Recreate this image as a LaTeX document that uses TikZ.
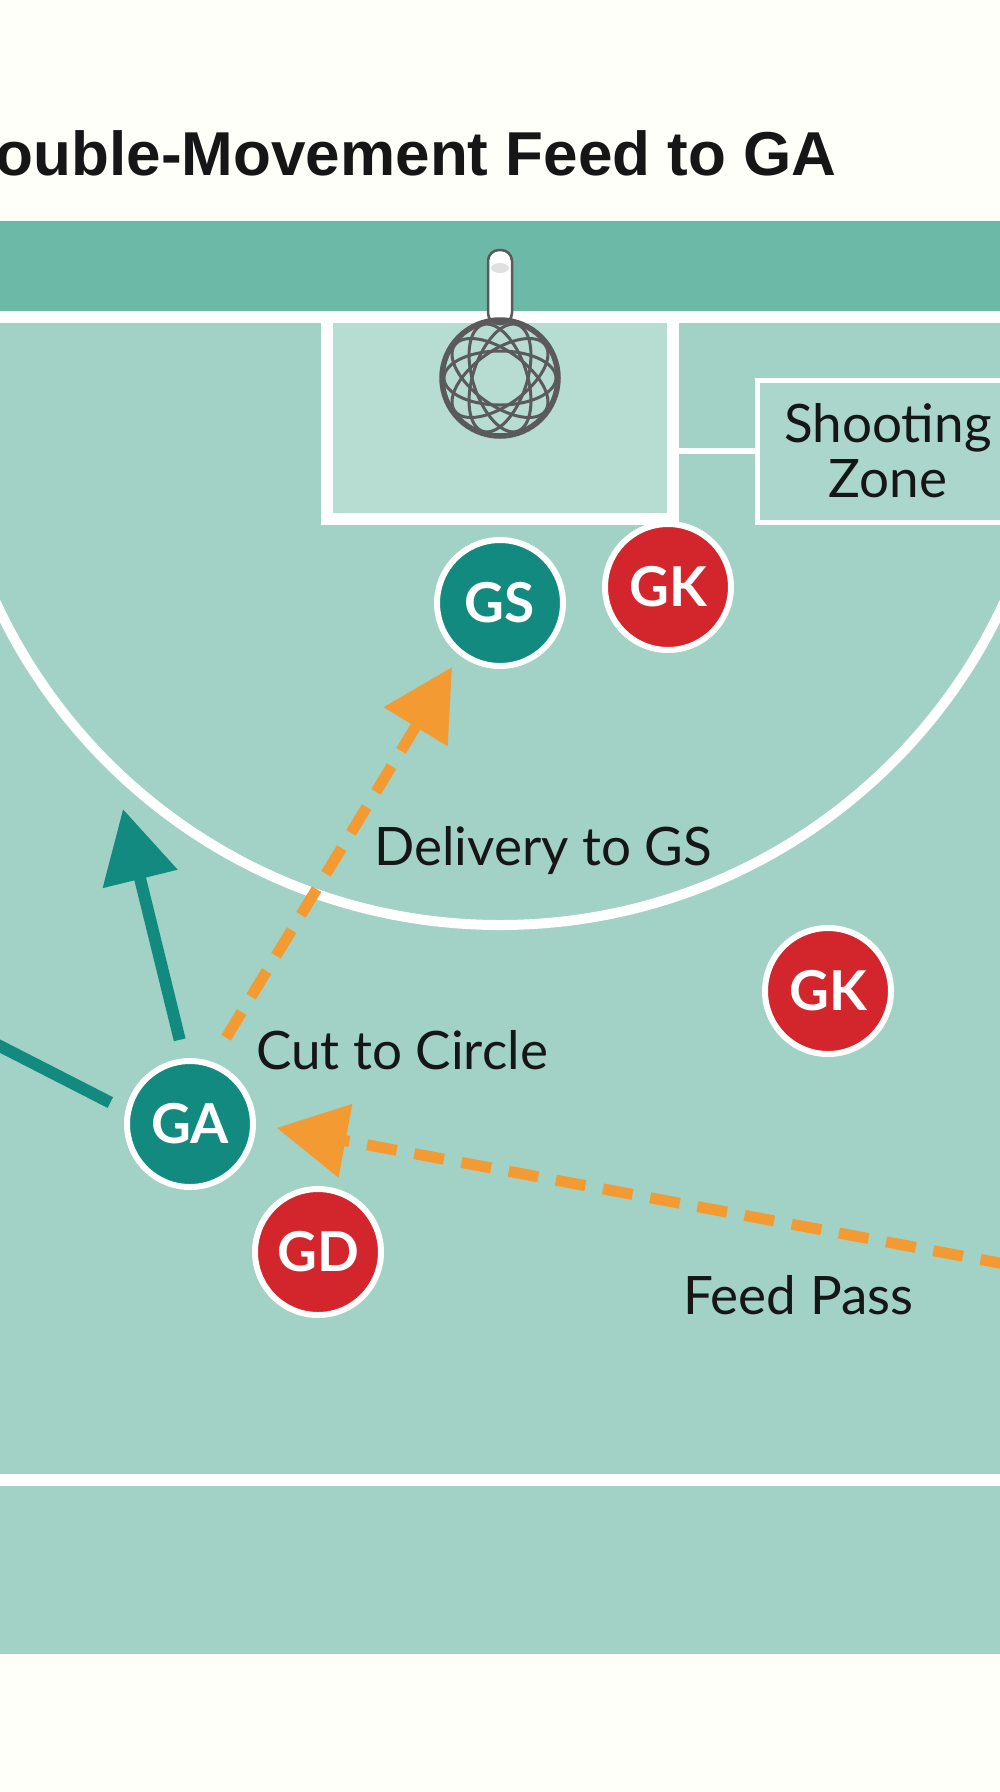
\documentclass[tikz,border=0pt]{standalone}
\usepackage{fontspec}
\setmainfont{Lato}
\newfontfamily\titlefont{Liberation Sans}
\usetikzlibrary{arrows.meta}

\definecolor{bandgreen}{HTML}{6DB9A7}
\definecolor{courtgreen}{HTML}{A2D1C5}
\definecolor{boxgreen}{HTML}{B7DCD2}
\definecolor{teamteal}{HTML}{138A80}
\definecolor{oppred}{HTML}{D3252C}
\definecolor{passorange}{HTML}{F49A33}
\definecolor{netgrey}{HTML}{5A5A5A}
\definecolor{inkblack}{HTML}{161616}

\begin{document}
\begin{tikzpicture}[x=1pt,y=-1pt]
    \tikzset{attack/.style = {shape=circle,draw=white,line width=6pt,fill=teamteal,minimum size=126pt,inner sep=0pt,text=white,font=\fontsize{55}{55}\selectfont\bfseries}}
    \tikzset{defend/.style = {attack,fill=oppred}}
    \tikzset{courtline/.style = {draw=white,line width=12pt}}
    \tikzset{notetext/.style = {inner sep=0pt,anchor=base west,text=inkblack,font=\fontsize{53}{55}\selectfont}}
    \tikzset{runline/.style = {draw=teamteal,line width=12pt}}
    \tikzset{tipped/.style = {-{Triangle[length=72pt,width=74pt]}}}
    \tikzset{passline/.style = {draw=passorange,line width=11pt,dash pattern=on 30pt off 18pt,-{Triangle[length=70pt,width=72pt]}}}

    \useasboundingbox (0,0) rectangle (1000,1792);
    \clip (0,0) rectangle (1000,1792);

    % court
    \fill[white!98!yellow] (0,0) rectangle (1000,1792);
    \fill[bandgreen] (0,221) rectangle (1000,312);
    \fill[courtgreen] (0,312) rectangle (1000,1654);
    \fill[boxgreen] (327,317) rectangle (673,519);
    \begin{scope}
    \clip (0,324) rectangle (1000,1474);
    \draw[white,line width=10pt] (500,370) circle (555);
    \end{scope}
    \draw[courtline] (-10,317) -- (1010,317);
    \draw[courtline] (-10,1480) -- (1010,1480);
    \draw[courtline] (327,317) -- (327,519) -- (673,519) -- (673,317);

    \node[draw=white,line width=5pt,fill=courtgreen!90!white,minimum width=262pt,minimum height=142pt,align=center,text=inkblack,font=\fontsize{53}{55}\selectfont] (zone) at (888,451) {Shooting\\Zone};
    \coordinate (gbx) at (673,451);
    \draw[white,line width=6pt] (gbx) -- (zone.west);

    % goal post and ring
    \draw[netgrey,line width=2.5pt,fill=white,rounded corners=11pt] (488,250) rectangle (512,324);
    \fill[black!12] (500,268) ellipse (9 and 5);
    \begin{scope}[shift={(500,378)}]
    \foreach \a in {0,36,...,144}
        \draw[netgrey,line width=3pt,rotate=\a] (0,0) ellipse (56 and 27);
    \draw[netgrey,line width=5.5pt] (0,0) circle (58);
    \end{scope}

    \node[anchor=base east,text=inkblack,font=\titlefont\bfseries\fontsize{62}{62}\selectfont] (title) at (840,175) {Double-Movement Feed to GA};

    % players
    \node[attack] (GS) at (500,603) {GS};
    \node[defend] (GK1) at (668,587) {GK};
    \node[defend] (GK2) at (828,991) {GK};
    \node[attack] (GA) at (190,1124) {GA};
    \node[defend] (GD) at (318,1252) {GD};

    % movement and passes
    \coordinate (leadin) at (-10,1041);
    \coordinate (cutend) at (123,809);
    \coordinate (feedin) at (1010,1265);
    \draw[runline,shorten >=17pt] (leadin) -- (GA.168);
    \draw[runline,tipped,shorten <=19pt] (GA.95) -- (cutend);
    \draw[passline,shorten <=28pt,shorten >=14pt] (GA.71) -- (GS.232);
    \draw[passline,shorten >=21pt] (feedin) -- (GA.east);

    \node[notetext] (delivery) at (374,865) {Delivery to GS};
    \node[notetext] (cut) at (256,1069) {Cut to Circle};
    \node[notetext] (feed) at (683,1314) {Feed Pass};
\end{tikzpicture}
\end{document}
